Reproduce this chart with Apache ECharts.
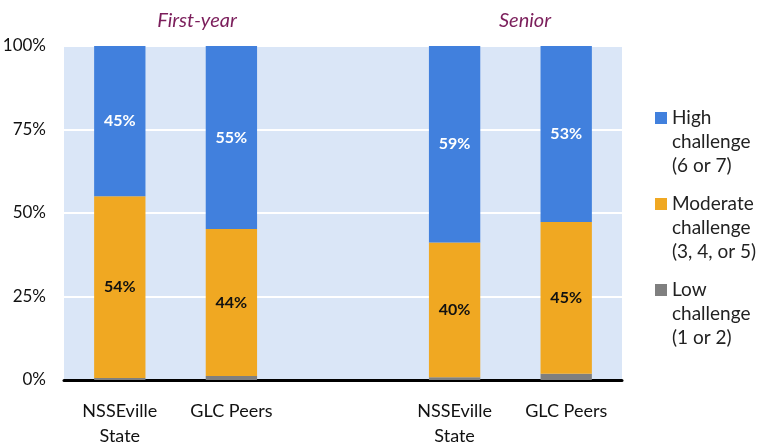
<!DOCTYPE html>
<html>
<head>
<meta charset="utf-8">
<script src="https://cdn.jsdelivr.net/npm/echarts@6/dist/echarts.min.js"></script>
<style>
  html, body { margin: 0; padding: 0; background: #fff; }
  #chart { width: 770px; height: 442px; }
</style>
</head>
<body>
<div id="chart"></div>
<script>
// categories: empty middle slot makes the gap between the two groups
var categories = ['NSSEville\nState', 'GLC Peers', '', 'NSSEville\nState', 'GLC Peers'];
var groupTitles = ['First-year', 'Senior'];
var lowData = [0.6, 1.2, '-', 0.8, 1.9];
var moderateData = [54.4, 44.0, '-', 40.4, 45.4];
var highData = [45.0, 54.8, '-', 58.8, 52.7];
var yTicks = [0, 25, 50, 75, 100];
var seriesNames = ['High\nchallenge\n(6 or 7)', 'Moderate\nchallenge\n(3, 4, or 5)', 'Low\nchallenge\n(1 or 2)'];

var fontFam = 'Lato, "Open Sans", sans-serif';
var chart = echarts.init(document.getElementById('chart'));

function pct(p) {
    return Math.round(p.value) + '%';
}

var option = {
    animation: false,
    textStyle: { fontFamily: fontFam },
    title: [
        { text: groupTitles[0], left: 192, top: 6, textAlign: 'center',
          textStyle: { fontStyle: 'italic', fontWeight: 'normal', fontSize: 20, color: '#7B1E5B', fontFamily: fontFam } },
        { text: groupTitles[1], left: 520, top: 6, textAlign: 'center',
          textStyle: { fontStyle: 'italic', fontWeight: 'normal', fontSize: 20, color: '#7B1E5B', fontFamily: fontFam } }
    ],
    grid: {
        left: 64, right: 148, top: 46, bottom: 62,
        outerBoundsMode: 'none',
        show: true, backgroundColor: '#DAE6F7', borderWidth: 0
    },
    legend: {
        orient: 'vertical',
        left: 650, top: 53,
        itemWidth: 12, itemHeight: 12,
        itemGap: -34,
        icon: 'rect',
        data: seriesNames,
        // two empty lines in front so the square sits beside the first line
        formatter: function (name) { return '\n\n' + name; },
        textStyle: { fontSize: 19, color: '#222', lineHeight: 24, fontFamily: fontFam }
    },
    xAxis: {
        type: 'category',
        data: categories,
        axisLine: { lineStyle: { color: '#000', width: 3 } },
        axisTick: { show: false },
        axisLabel: { fontSize: 18, color: '#111', lineHeight: 25, margin: 19, interval: 0 }
    },
    yAxis: {
        type: 'value',
        min: 0, max: 100, interval: 25,
        axisLine: { show: false },
        axisTick: { show: false },
        splitLine: { lineStyle: { color: '#fff', width: 2 } },
        axisLabel: {
            fontSize: 17, color: '#111', margin: 18,
            formatter: function (v) { return yTicks.indexOf(v) >= 0 ? v + '%' : ''; }
        }
    },
    series: [
        {
            name: seriesNames[2], type: 'bar', stack: 'a', barWidth: '46%',
            data: lowData, itemStyle: { color: '#7F7F7F' }
        },
        {
            name: seriesNames[1], type: 'bar', stack: 'a', barWidth: '46%',
            data: moderateData, itemStyle: { color: '#F0A822' },
            label: { show: true, position: 'inside', formatter: pct, fontSize: 16, fontWeight: 'bold', color: '#111' }
        },
        {
            name: seriesNames[0], type: 'bar', stack: 'a', barWidth: '46%',
            data: highData, itemStyle: { color: '#4180DD' },
            label: { show: true, position: 'inside', formatter: pct, fontSize: 16, fontWeight: 'bold', color: '#fff' }
        }
    ]
};
chart.setOption(option);
</script>
</body>
</html>
